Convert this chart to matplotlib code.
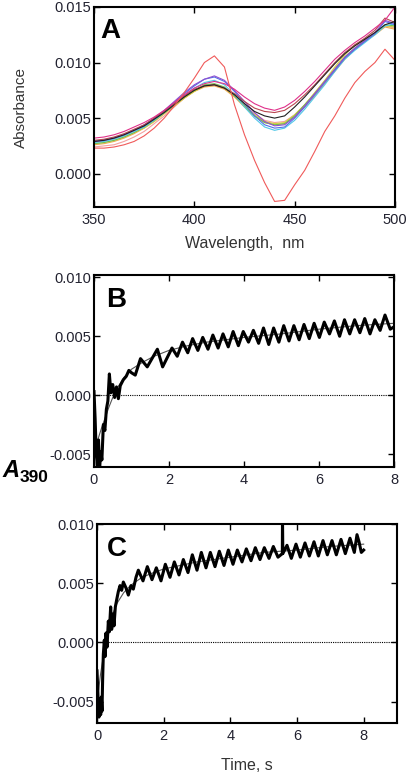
import numpy as np
import matplotlib
matplotlib.use('Agg')
import matplotlib.pyplot as plt
from matplotlib.ticker import FormatStrFormatter

plt.rcParams['font.family'] = ['Liberation Sans', 'DejaVu Sans']
plt.rcParams['axes.unicode_minus'] = False

# panel A: difference spectra
wl = [350, 355, 360, 365, 370, 375, 380, 385, 390, 395, 400, 405, 410, 415, 420, 425,
      430, 435, 440, 445, 450, 455, 460, 465, 470, 475, 480, 485, 490, 495, 500]

spec_salmon = [0.0024, 0.0025, 0.0026, 0.0029, 0.0033, 0.0038, 0.0045, 0.0052, 0.0060, 0.0068, 0.0075,
               0.0079, 0.0080, 0.0077, 0.0070, 0.0062, 0.0054, 0.0048, 0.0046, 0.0047, 0.0053, 0.0062,
               0.0072, 0.0083, 0.0094, 0.0104, 0.0112, 0.0119, 0.0126, 0.0133, 0.0131]
spec_orange = [0.0026, 0.0027, 0.0029, 0.0032, 0.0036, 0.0041, 0.0047, 0.0054, 0.0061, 0.0068, 0.0074,
               0.0078, 0.0079, 0.0076, 0.0069, 0.0060, 0.0052, 0.0046, 0.0044, 0.0045, 0.0051, 0.0060,
               0.0070, 0.0081, 0.0092, 0.0103, 0.0112, 0.0119, 0.0125, 0.0132, 0.0130]
spec_yellow = [0.0027, 0.0028, 0.0030, 0.0033, 0.0037, 0.0041, 0.0047, 0.0054, 0.0061, 0.0068, 0.0074,
               0.0079, 0.0080, 0.0077, 0.0070, 0.0061, 0.0053, 0.0047, 0.0045, 0.0046, 0.0053, 0.0062,
               0.0073, 0.0084, 0.0096, 0.0107, 0.0116, 0.0121, 0.0127, 0.0133, 0.0132]
spec_green = [0.0027, 0.0028, 0.0030, 0.0033, 0.0037, 0.0042, 0.0048, 0.0055, 0.0062, 0.0069, 0.0075,
              0.0080, 0.0081, 0.0078, 0.0070, 0.0061, 0.0052, 0.0046, 0.0044, 0.0045, 0.0052, 0.0062,
              0.0072, 0.0083, 0.0094, 0.0105, 0.0113, 0.0120, 0.0126, 0.0134, 0.0133]
spec_cyan = [0.0028, 0.0029, 0.0031, 0.0034, 0.0038, 0.0042, 0.0048, 0.0055, 0.0062, 0.0070, 0.0077,
             0.0082, 0.0084, 0.0080, 0.0071, 0.0060, 0.0050, 0.0042, 0.0039, 0.0041, 0.0048, 0.0058,
             0.0069, 0.0080, 0.0092, 0.0103, 0.0111, 0.0118, 0.0125, 0.0133, 0.0135]
spec_blue = [0.0029, 0.0030, 0.0032, 0.0035, 0.0039, 0.0043, 0.0049, 0.0056, 0.0064, 0.0072, 0.0079,
             0.0085, 0.0087, 0.0083, 0.0074, 0.0063, 0.0052, 0.0044, 0.0041, 0.0042, 0.0050, 0.0060,
             0.0071, 0.0082, 0.0093, 0.0104, 0.0112, 0.0119, 0.0126, 0.0137, 0.0134]
spec_purple = [0.0029, 0.0030, 0.0032, 0.0035, 0.0039, 0.0044, 0.0050, 0.0057, 0.0065, 0.0073, 0.0080,
               0.0085, 0.0088, 0.0084, 0.0075, 0.0065, 0.0055, 0.0047, 0.0043, 0.0044, 0.0051, 0.0061,
               0.0072, 0.0083, 0.0094, 0.0105, 0.0113, 0.0120, 0.0127, 0.0138, 0.0135]
spec_brown = [0.0030, 0.0031, 0.0033, 0.0036, 0.0040, 0.0044, 0.0050, 0.0056, 0.0063, 0.0070, 0.0076,
              0.0079, 0.0080, 0.0077, 0.0072, 0.0065, 0.0059, 0.0056, 0.0055, 0.0057, 0.0063, 0.0071,
              0.0080, 0.0090, 0.0100, 0.0109, 0.0116, 0.0122, 0.0129, 0.0140, 0.0136]
spec_magenta = [0.0032, 0.0033, 0.0035, 0.0038, 0.0042, 0.0046, 0.0051, 0.0057, 0.0064, 0.0071, 0.0077,
                0.0081, 0.0083, 0.0081, 0.0076, 0.0069, 0.0063, 0.0059, 0.0057, 0.0060, 0.0066, 0.0074,
                0.0083, 0.0093, 0.0103, 0.0111, 0.0118, 0.0124, 0.0131, 0.0138, 0.0150]
spec_black = [0.0029, 0.0030, 0.0032, 0.0035, 0.0039, 0.0043, 0.0049, 0.0055, 0.0062, 0.0069, 0.0075,
              0.0079, 0.0080, 0.0077, 0.0071, 0.0063, 0.0056, 0.0052, 0.0050, 0.0052, 0.0060, 0.0069,
              0.0079, 0.0089, 0.0099, 0.0108, 0.0115, 0.0121, 0.0127, 0.0134, 0.0137]
spec_red = [0.0023, 0.0023, 0.0024, 0.0026, 0.0029, 0.0034, 0.0041, 0.0050, 0.0061, 0.0073, 0.0086,
            0.0100, 0.0106, 0.0096, 0.0062, 0.0035, 0.0012, -0.0008, -0.0025, -0.0024, -0.0010, 0.0003,
            0.0020, 0.0038, 0.0052, 0.0068, 0.0082, 0.0092, 0.0100, 0.0112, 0.0102]

spectra = [spec_salmon, spec_orange, spec_yellow, spec_green, spec_cyan, spec_blue,
           spec_purple, spec_brown, spec_magenta, spec_black, spec_red]
spec_colors = ['#f4a0a0', '#f0a850', '#d8d040', '#70c050', '#50c8e8', '#5070e8',
               '#9050d0', '#b84850', '#e0308a', '#202020', '#f05a5a']

# panel B: A390 trace and fit
tB = [0.00, 0.03, 0.06, 0.09, 0.12, 0.15, 0.18, 0.21, 0.25, 0.29, 0.33, 0.37, 0.41, 0.45, 0.50,
      0.55, 0.60, 0.65, 0.70, 0.78, 0.86, 0.93, 1.00,
      1.10, 1.24, 1.42, 1.69, 1.83, 2.08, 2.22, 2.36, 2.50, 2.63, 2.77, 2.90, 3.04, 3.17, 3.31,
      3.44, 3.58, 3.71, 3.85, 3.98, 4.12, 4.25, 4.39, 4.52, 4.66, 4.79, 4.93, 5.06, 5.20, 5.33,
      5.47, 5.60, 5.74, 5.87, 6.01, 6.14, 6.28, 6.41, 6.55, 6.68, 6.82, 6.95, 7.09, 7.22, 7.36,
      7.49, 7.63, 7.76, 7.90, 8.00]
aB = [0.0003, -0.0020, -0.0050, -0.0060, -0.0038, -0.0062, -0.0048, -0.0055, -0.0025, -0.0030,
      -0.0012, -0.0005, 0.0018, 0.0002, 0.0009, -0.0002, 0.0007, -0.0003, 0.0008, 0.0013, 0.0016,
      0.0021, 0.0019,
      0.0017, 0.0031, 0.0024, 0.0039, 0.0024, 0.0040, 0.0033, 0.0045, 0.0036, 0.0048, 0.0038,
      0.0049, 0.0039, 0.0051, 0.0040, 0.0052, 0.0041, 0.0054, 0.0042, 0.0054, 0.0045, 0.0055,
      0.0044, 0.0057, 0.0043, 0.0057, 0.0045, 0.0059, 0.0046, 0.0059, 0.0047, 0.0060, 0.0048,
      0.0061, 0.0049, 0.0062, 0.0052, 0.0063, 0.0050, 0.0064, 0.0052, 0.0064, 0.0053, 0.0065,
      0.0052, 0.0064, 0.0055, 0.0068, 0.0056, 0.0058]
tB_fit = [0.05, 0.1, 0.2, 0.3, 0.4, 0.5, 0.6, 0.8, 1.0, 1.3, 1.6, 2.0, 2.5, 3.0, 4.0, 5.0, 6.0, 7.0, 8.0]
aB_fit = [-0.0045, -0.0038, -0.0028, -0.0019, -0.0010, -0.0002, 0.0005, 0.0015, 0.0022, 0.0028,
          0.0033, 0.0038, 0.0042, 0.0045, 0.0049, 0.0052, 0.0056, 0.0059, 0.0061]

# panel C
tC = [0.00, 0.03, 0.06, 0.09, 0.11, 0.13, 0.15, 0.17, 0.19, 0.22, 0.24, 0.27, 0.30, 0.34, 0.37,
      0.41, 0.44, 0.48, 0.51, 0.55, 0.59, 0.64, 0.69, 0.74, 0.79, 0.87, 0.94, 1.02, 1.09, 1.17,
      1.24, 1.38, 1.51, 1.65, 1.78, 1.92, 2.05, 2.19, 2.32, 2.46, 2.59, 2.73, 2.86, 3.00, 3.13,
      3.27, 3.40, 3.54, 3.67, 3.81, 3.94, 4.08, 4.21, 4.35, 4.48, 4.62, 4.75, 4.89, 5.02, 5.16,
      5.29, 5.43, 5.56, 5.565, 5.575, 5.70, 5.83, 5.97, 6.10, 6.24, 6.37, 6.51, 6.64, 6.78, 6.91,
      7.05, 7.18, 7.32, 7.45, 7.59, 7.72, 7.80, 7.86, 7.93, 8.00]
aC = [-0.0024, -0.0045, -0.0063, -0.0050, -0.0061, -0.0046, -0.0058, -0.0030, -0.0010, 0.0002,
      -0.0012, 0.0008, -0.0004, 0.0018, 0.0009, 0.0030, 0.0011, 0.0024, 0.0014, 0.0030, 0.0036,
      0.0043, 0.0048, 0.0044, 0.0051, 0.0046, 0.0040, 0.0048, 0.0045, 0.0055,
      0.0061, 0.0052, 0.0064, 0.0053, 0.0063, 0.0052, 0.0066, 0.0055, 0.0068, 0.0057, 0.0070,
      0.0059, 0.0074, 0.0061, 0.0076, 0.0063, 0.0076, 0.0064, 0.0077, 0.0065, 0.0078, 0.0066,
      0.0078, 0.0068, 0.0079, 0.0069, 0.0080, 0.0070, 0.0080, 0.0071, 0.0081, 0.0072, 0.0075,
      0.0105, 0.0075, 0.0082, 0.0071, 0.0083, 0.0072, 0.0084, 0.0073, 0.0085, 0.0073, 0.0086,
      0.0074, 0.0086, 0.0074, 0.0087, 0.0075, 0.0088, 0.0076, 0.0091, 0.0085, 0.0076, 0.0078]
tC_fit = [0.05, 0.1, 0.2, 0.3, 0.4, 0.5, 0.6, 0.8, 1.0, 1.3, 1.6, 2.0, 2.5, 3.0, 4.0, 5.0, 6.0, 7.0, 8.0]
aC_fit = [-0.0040, -0.0028, -0.0010, 0.0005, 0.0017, 0.0026, 0.0033, 0.0042, 0.0048, 0.0054,
          0.0058, 0.0062, 0.0065, 0.0068, 0.0072, 0.0076, 0.0078, 0.0081, 0.0083]

txt = '#222230'
fig = plt.figure(figsize=(4.08, 7.72), dpi=100)
axA = fig.add_axes([94 / 408, 1 - 207 / 772, 301 / 408, 200 / 772])
axB = fig.add_axes([94 / 408, 1 - 467 / 772, 300 / 408, 192 / 772])
axC = fig.add_axes([97 / 408, 1 - 723 / 772, 300 / 408, 199 / 772])


def style(ax):
    for s in ax.spines.values():
        s.set_linewidth(1.5)
    ax.tick_params(direction='in', top=True, right=True, length=4, width=1.0,
                   labelsize=10.5, labelcolor=txt, pad=2)
    ax.tick_params(axis='x', pad=4)
    ax.yaxis.set_major_formatter(FormatStrFormatter('%.3f'))


for s, c in zip(spectra, spec_colors):
    axA.plot(wl, s, color=c, lw=0.8)
axA.set_xlim(350, 500)
axA.set_ylim(-0.003, 0.015)
axA.set_xticks([350, 400, 450, 500])
axA.set_yticks([0.0, 0.005, 0.010, 0.015])
style(axA)
axA.set_xlabel('Wavelength,  nm', fontsize=11.5, color='#333333', labelpad=7)
axA.set_ylabel('Absorbance', fontsize=11, color='#333333', labelpad=19)
axA.text(0.02, 0.845, 'A', transform=axA.transAxes, fontsize=20, fontweight='bold', va='baseline')

axB.axhline(0, color='black', lw=0.8, ls=(0, (1, 1)))
axB.plot(tB_fit, aB_fit, color='#555555', lw=0.8)
axB.plot(tB, aB, color='black', lw=2.2)
axB.set_xlim(0, 8)
axB.set_ylim(-0.0061, 0.0102)
axB.set_xticks([0, 2, 4, 6, 8])
axB.set_yticks([-0.005, 0.0, 0.005, 0.010])
style(axB)
axB.text(0.04, 0.833, 'B', transform=axB.transAxes, fontsize=20, fontweight='bold', va='baseline')

axC.axhline(0, color='black', lw=0.8, ls=(0, (1, 1)))
axC.plot(tC_fit, aC_fit, color='#555555', lw=0.8)
axC.plot(tC, aC, color='black', lw=2.2)
axC.set_xlim(0, 9)
axC.set_ylim(-0.0068, 0.0100)
axC.set_xticks([0, 2, 4, 6, 8])
axC.set_yticks([-0.005, 0.0, 0.005, 0.010])
style(axC)
axC.set_xlabel('Time, s', fontsize=11.5, color='#333333', labelpad=11)
axC.text(0.033, 0.839, 'C', transform=axC.transAxes, fontsize=20, fontweight='bold', va='baseline')

fig.text(2 / 408, 1 - 477 / 772, 'A', fontsize=17, fontweight='bold', style='italic', va='baseline')
fig.text(20 / 408, 1 - 482 / 772, '390', fontsize=12.5, fontweight='bold', va='baseline')

plt.savefig('out.png', dpi=100)
